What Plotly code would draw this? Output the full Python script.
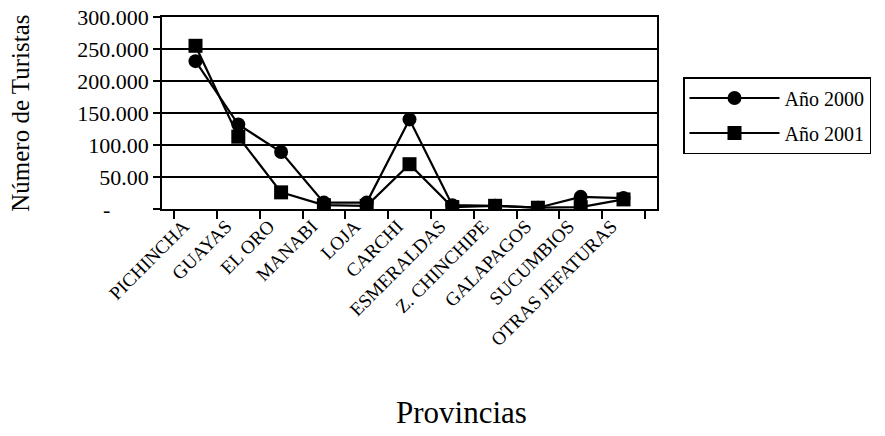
import plotly.graph_objects as go

provincias = ["PICHINCHA", "GUAYAS", "EL ORO", "MANABI", "LOJA", "CARCHI",
              "ESMERALDAS", "Z. CHINCHIPE", "GALAPAGOS", "SUCUMBIOS", "OTRAS JEFATURAS"]
anio_2000 = [231000, 132000, 89000, 10000, 10000, 140000, 6000, 5000, 2000, 19000, 17000]
anio_2001 = [255000, 113000, 26000, 6000, 5000, 70000, 3000, 5000, 2000, 3000, 15000]

y_tickvals = [0, 50000, 100000, 150000, 200000, 250000, 300000]
y_ticktext = ["-\u00a0\u00a0\u00a0\u00a0\u00a0\u00a0\u00a0", "50.00", "100.00", "150.000",
              "200.000", "250.000", "300.000"]

FONT = "Liberation Serif"

# page offset of the plot (body margin) is 8px; target pixel positions below
OFF = 8
PL, PR, PT, PB = 162 - OFF, 657 - OFF, 17 - OFF, 209.5 - OFF
PW, PH = PR - PL, PB - PT

fig = go.Figure()
fig.add_trace(go.Scatter(
    x=provincias, y=anio_2000, name="Año 2000", mode="lines+markers",
    line=dict(color="black", width=2.2),
    marker=dict(symbol="circle", size=14, color="black"),
    legendgroup="a"))
fig.add_trace(go.Scatter(
    x=provincias, y=anio_2001, name="Año 2001", mode="lines+markers",
    line=dict(color="black", width=2.2),
    marker=dict(symbol="square", size=14, color="black"),
    legendgroup="b"))

fig.update_layout(
    width=885, height=436,
    margin=dict(l=PL, r=885 - PR, t=PT, b=436 - PB),
    paper_bgcolor="white", plot_bgcolor="white",
    font=dict(family=FONT, color="black", size=20),
    showlegend=True,
    legend=dict(
        x=(683 - OFF) / 885, xanchor="left", y=1 - (77 - OFF) / 436, yanchor="top",
        yref="container", xref="container",
        bordercolor="black", borderwidth=1.5, bgcolor="white",
        font=dict(family=FONT, size=20, color="black"),
        itemwidth=90, traceorder="grouped", tracegroupgap=6,
    ),
    xaxis=dict(
        type="category", tickson="boundaries", ticks="outside", ticklen=8,
        tickwidth=1.5, tickcolor="black", automargin=False,
        showline=True, linecolor="black", linewidth=1.5, mirror=True,
        showgrid=False, tickangle=-45,
        ticklabelshift=-12, ticklabelstandoff=-3,
        tickfont=dict(family=FONT, size=19, color="black"),
    ),
    yaxis=dict(
        range=[0, 300000], tickvals=y_tickvals, ticktext=y_ticktext,
        ticks="outside", ticklen=7, tickwidth=1.5, tickcolor="black",
        showline=True, linecolor="black", linewidth=1.5, mirror=True,
        showgrid=True, gridcolor="black", gridwidth=1.5, zeroline=False,
        automargin=False, ticklabeloverflow="allow",
        tickfont=dict(family=FONT, size=22, color="black"),
    ),
)

fig.add_annotation(text="Número de Turistas", xref="paper", yref="paper",
                   x=((21 - OFF) - PL) / PW, y=(PB - (114 - OFF)) / PH,
                   xanchor="center", yanchor="middle", textangle=-90, showarrow=False,
                   font=dict(family=FONT, size=25, color="black"))
fig.add_annotation(text="Provincias", xref="paper", yref="paper",
                   x=((461 - OFF) - PL) / PW, y=(PB - (414 - OFF)) / PH,
                   xanchor="center", yanchor="middle", showarrow=False,
                   font=dict(family=FONT, size=31, color="black"))

fig.write_html("out.html")
